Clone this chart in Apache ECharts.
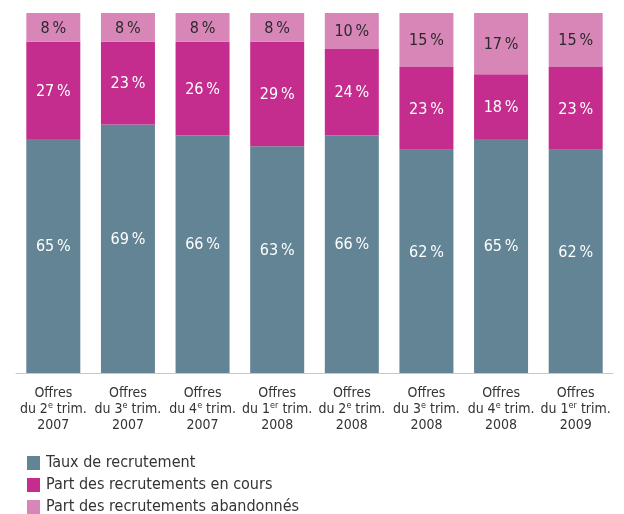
<!DOCTYPE html>
<html>
<head>
<meta charset="utf-8">
<script src="https://cdn.jsdelivr.net/npm/echarts@6/dist/echarts.min.js"></script>
<style>
  html, body { margin: 0; padding: 0; background: #fff; }
  #chart { width: 624px; height: 514px; }
</style>
</head>
<body>
<div id="chart"></div>
<script>
  // trimestres : [numéro, suffixe, année]
  var quarters = [['2', 'e', '2007'], ['3', 'e', '2007'], ['4', 'e', '2007'], ['1', 'er', '2008'],
                  ['2', 'e', '2008'], ['3', 'e', '2008'], ['4', 'e', '2008'], ['1', 'er', '2009']];
  var tauxRecrutement = [65, 69, 66, 63, 66, 62, 65, 62];
  var enCours = [27, 23, 26, 29, 24, 23, 18, 23];
  var abandonnes = [8, 8, 8, 8, 10, 15, 17, 15];

  var FONT = '"DejaVu Sans Condensed", "Liberation Sans Narrow", sans-serif';
  var categories = quarters.map(function (q) {
    return 'Offres\ndu ' + q[0] + '{sup|' + q[1] + '} trim.\n' + q[2];
  });

  function pctLabel(color, dy) {
    return {
      show: true,
      position: 'inside',
      offset: [0, dy || 0],
      color: color,
      fontFamily: FONT,
      fontSize: 16,
      formatter: function (p) { return p.value + '\u2009%'; }
    };
  }

  var chart = echarts.init(document.getElementById('chart'));
  chart.setOption({
    animation: false,
    textStyle: { fontFamily: FONT },
    grid: { left: 16, right: 11, top: 13, bottom: 141 },
    legend: {
      orient: 'vertical',
      left: 27,
      top: 455,
      height: 120,
      padding: 0,
      itemWidth: 13,
      itemHeight: 14,
      itemGap: 6,
      icon: 'rect',
      textStyle: { fontFamily: FONT, fontSize: 16, lineHeight: 14, color: '#333', padding: [0, 0, 0, 1] },
      data: ['Taux de recrutement', 'Part des recrutements en cours', 'Part des recrutements abandonnés']
    },
    xAxis: {
      type: 'category',
      data: categories,
      axisTick: { show: false },
      axisLine: { lineStyle: { color: '#c8c8c8', width: 1 } },
      axisLabel: {
        interval: 0,
        margin: 12,
        fontFamily: FONT,
        fontSize: 14,
        lineHeight: 16,
        color: '#333',
        rich: {
          sup: { fontSize: 9, verticalAlign: 'top', lineHeight: 16, padding: [0, 0, 6, 0], color: '#333', fontFamily: FONT }
        }
      }
    },
    yAxis: {
      type: 'value',
      min: 0,
      max: 100,
      show: false,
      splitLine: { show: false }
    },
    series: [
      {
        name: 'Taux de recrutement', type: 'bar', stack: 'total', barWidth: 54,
        itemStyle: { color: '#628495' }, label: pctLabel('#fff', -9), data: tauxRecrutement
      },
      {
        name: 'Part des recrutements en cours', type: 'bar', stack: 'total', barWidth: 54,
        itemStyle: { color: '#c42c8d' }, label: pctLabel('#fff', 1), data: enCours
      },
      {
        name: 'Part des recrutements abandonnés', type: 'bar', stack: 'total', barWidth: 54,
        itemStyle: { color: '#d886b8' }, label: pctLabel('#2a2a2a', 1), data: abandonnes
      }
    ]
  });
</script>
</body>
</html>
